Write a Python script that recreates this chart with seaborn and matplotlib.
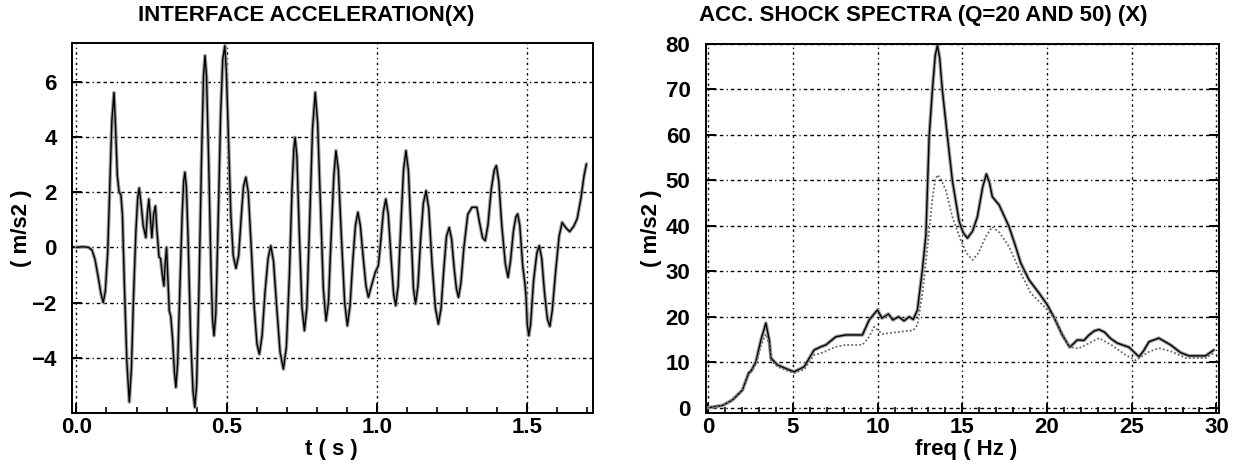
import numpy as np
import pandas as pd
import matplotlib
matplotlib.use("Agg")
import matplotlib.pyplot as plt
from matplotlib.ticker import MultipleLocator
import seaborn as sns

# ---- interface acceleration time history (s, m/s2) ----
acc_t = [0.000, 0.020, 0.040, 0.052, 0.062, 0.072, 0.082, 0.089, 0.096, 0.104,
         0.112, 0.118, 0.125, 0.130, 0.136, 0.142, 0.148, 0.153, 0.160, 0.168,
         0.176, 0.183, 0.190, 0.198, 0.204, 0.209, 0.215, 0.222, 0.231, 0.236,
         0.241, 0.246, 0.251, 0.257, 0.263, 0.268, 0.275, 0.280, 0.286, 0.291,
         0.296, 0.300, 0.304, 0.309, 0.314, 0.320, 0.326, 0.331, 0.337, 0.344,
         0.352, 0.357, 0.361, 0.366, 0.372, 0.380, 0.388, 0.394, 0.400, 0.408,
         0.416, 0.423, 0.428, 0.433, 0.440, 0.448, 0.453, 0.458, 0.464, 0.472,
         0.480, 0.487, 0.494, 0.499, 0.506, 0.514, 0.522, 0.531, 0.540, 0.548,
         0.556, 0.564, 0.572, 0.582, 0.592, 0.601, 0.609, 0.618, 0.628, 0.638,
         0.647, 0.656, 0.667, 0.678, 0.689, 0.699, 0.709, 0.718, 0.724, 0.728,
         0.734, 0.742, 0.751, 0.759, 0.767, 0.776, 0.786, 0.795, 0.803, 0.813,
         0.822, 0.831, 0.839, 0.848, 0.857, 0.864, 0.872, 0.882, 0.893, 0.902,
         0.911, 0.920, 0.929, 0.937, 0.945, 0.955, 0.964, 0.972, 0.982, 0.995,
         1.005, 1.013, 1.022, 1.030, 1.038, 1.047, 1.056, 1.063, 1.071, 1.080,
         1.089, 1.097, 1.105, 1.114, 1.122, 1.129, 1.137, 1.146, 1.155, 1.164,
         1.173, 1.184, 1.195, 1.205, 1.214, 1.223, 1.232, 1.241, 1.249, 1.257,
         1.265, 1.272, 1.280, 1.290, 1.303, 1.317, 1.333, 1.342, 1.352, 1.361,
         1.370, 1.381, 1.391, 1.398, 1.406, 1.416, 1.428, 1.437, 1.445, 1.455,
         1.463, 1.469, 1.476, 1.486, 1.493, 1.497, 1.501, 1.506, 1.512, 1.522,
         1.533, 1.541, 1.549, 1.558, 1.568, 1.576, 1.584, 1.596, 1.607, 1.617,
         1.630, 1.642, 1.655, 1.667, 1.680, 1.690, 1.698]
acc_v = [0.00, 0.02, 0.00, -0.10, -0.45, -1.05, -1.70, -2.00, -1.60, -0.20,
         2.50, 4.60, 5.60, 4.40, 2.60, 2.00, 1.90, 1.20, -1.50, -4.20,
         -5.60, -4.40, -1.80, 0.60, 1.80, 2.15, 1.60, 0.80, 0.35, 1.20,
         1.75, 1.10, 0.35, 1.20, 1.50, 0.60, -0.35, -0.40, -1.00, -1.40,
         -0.50, 0.00, -1.00, -2.30, -2.50, -3.30, -4.50, -5.07, -4.20, -1.60,
         1.20, 2.40, 2.72, 2.20, 0.20, -3.20, -5.20, -5.80, -5.00, -1.50,
         3.00, 6.20, 6.94, 6.20, 3.20, -0.80, -2.60, -3.20, -2.40, 1.00,
         4.80, 6.80, 7.30, 6.40, 4.00, 1.20, -0.30, -0.76, -0.30, 1.00,
         2.20, 2.54, 2.00, 0.00, -2.20, -3.50, -3.87, -3.20, -1.60, -0.40,
         0.06, -0.50, -2.20, -3.80, -4.41, -3.60, -1.00, 2.20, 3.60, 3.98,
         3.30, 0.50, -2.20, -3.02, -2.20, 0.80, 4.30, 5.61, 4.50, 1.40,
         -1.50, -2.66, -2.00, 0.40, 2.60, 3.50, 2.80, 0.40, -2.00, -2.84,
         -2.10, -0.50, 0.80, 1.27, 0.80, -0.40, -1.40, -1.81, -1.40, -0.90,
         -0.67, 0.20, 1.30, 1.75, 1.20, -0.30, -1.70, -2.11, -1.40, 0.80,
         2.80, 3.50, 2.80, 0.60, -1.50, -2.05, -1.40, 0.30, 1.60, 2.05,
         1.40, -0.60, -2.20, -2.78, -2.20, -0.80, 0.40, 0.72, 0.30, -0.70,
         -1.50, -1.81, -1.30, 0.00, 1.20, 1.45, 1.45, 0.90, 0.35, 0.24,
         0.80, 2.10, 2.80, 2.96, 2.40, 0.80, -0.60, -1.09, -0.50, 0.60,
         1.10, 1.21, 0.80, -0.70, -1.30, -1.80, -2.80, -3.20, -2.80, -1.20,
         -0.20, 0.06, -0.40, -1.60, -2.60, -2.86, -2.30, -0.80, 0.40, 0.90,
         0.70, 0.57, 0.75, 1.03, 1.80, 2.60, 3.02]

# ---- acceleration shock spectra (Hz, m/s2) ----
q50_f = [0.00, 0.85, 1.43, 2.02, 2.38, 2.55, 2.81, 3.11, 3.40, 3.60,
         3.70, 4.09, 4.78, 5.07, 5.66, 6.25, 6.65, 6.94, 7.53, 8.12,
         9.10, 9.50, 9.99, 10.25, 10.64, 10.90, 11.23, 11.56, 11.86, 12.10,
         12.35, 12.64, 12.85, 13.04, 13.23, 13.40, 13.53, 13.66, 13.82, 14.12,
         14.41, 14.81, 15.05, 15.30, 15.60, 15.89, 16.20, 16.42, 16.60, 16.77,
         17.17, 17.76, 18.15, 18.45, 18.94, 19.53, 20.02, 20.41, 20.90, 21.34,
         21.79, 22.18, 22.48, 22.80, 23.07, 23.40, 23.76, 24.15, 24.84, 25.43,
         25.70, 26.02, 26.60, 27.30, 27.89, 28.38, 29.36, 29.85]
q50_a = [0.0, 0.5, 1.7, 3.9, 7.6, 8.2, 10.1, 14.9, 18.6, 14.9,
         10.9, 9.4, 8.3, 7.9, 9.0, 12.7, 13.4, 13.8, 15.6, 16.0,
         16.0, 19.3, 21.5, 19.7, 20.6, 19.3, 20.0, 19.1, 20.0, 19.4,
         21.5, 30.3, 38.0, 59.6, 69.8, 77.5, 79.7, 77.0, 69.8, 59.6,
         50.0, 41.0, 38.5, 37.3, 38.8, 42.0, 48.5, 51.4, 49.5, 46.4,
         44.6, 39.8, 35.4, 31.8, 28.1, 25.2, 22.6, 19.9, 16.0, 13.3,
         14.9, 14.8, 16.0, 16.9, 17.2, 16.6, 15.2, 14.2, 13.3, 11.2,
         12.5, 14.5, 15.3, 13.8, 12.1, 11.4, 11.4, 12.7]

q20_f = [0.00, 0.85, 1.43, 2.02, 2.38, 2.55, 2.81, 3.11, 3.40, 3.60,
         3.70, 4.09, 4.78, 5.07, 5.66, 6.25, 6.65, 6.94, 7.53, 8.12,
         9.10, 9.50, 9.79, 10.28, 10.90, 11.56, 12.10, 12.35, 12.64, 12.85,
         13.04, 13.23, 13.40, 13.53, 13.70, 14.02, 14.41, 14.90, 15.25, 15.60,
         15.95, 16.38, 16.77, 17.20, 17.76, 18.45, 19.04, 19.92, 20.51, 21.30,
         21.85, 22.28, 23.07, 23.80, 24.64, 25.23, 26.02, 26.60, 27.40, 28.18,
         29.36, 29.85]
q20_a = [0.0, 0.5, 1.6, 3.7, 7.2, 7.9, 9.6, 13.6, 16.2, 13.8,
         10.4, 9.0, 8.0, 7.6, 8.4, 11.6, 12.0, 12.4, 13.4, 13.8,
         13.8, 15.6, 17.8, 16.2, 16.5, 16.8, 17.0, 18.2, 25.0, 32.0,
         39.0, 46.0, 50.0, 51.2, 50.5, 47.9, 42.0, 36.9, 34.0, 32.5,
         34.0, 37.6, 39.8, 38.5, 35.4, 29.6, 25.2, 21.9, 19.3, 13.4,
         13.0, 13.8, 15.3, 13.8, 11.6, 10.4, 12.3, 13.1, 12.3, 10.9,
         10.9, 12.0]

acc_df = pd.DataFrame({"t": acc_t, "acc": acc_v})
q50_df = pd.DataFrame({"freq": q50_f, "acc": q50_a})
q20_df = pd.DataFrame({"freq": q20_f, "acc": q20_a})

sns.set_theme(style="white")
plt.rcParams["font.family"] = ["Liberation Sans", "DejaVu Sans"]
plt.rcParams["font.weight"] = "bold"

fig = plt.figure(figsize=(12.34, 4.68), dpi=100)
ax1 = fig.add_axes([0.0583, 0.1175, 0.4223, 0.7906])
ax2 = fig.add_axes([0.5719, 0.1182, 0.4159, 0.7878])

HGRID = (0, (2.6, 2.2, 2.6, 2.2, 2.6, 2.2, 0.9, 2.2))
VGRID = (0, (0.9, 2.4, 1.8, 2.4))

# time history: grey halo under a thin black trace
sns.lineplot(data=acc_df, x="t", y="acc", ax=ax1, color="0.62", lw=2.6,
             estimator=None, sort=False)
sns.lineplot(data=acc_df, x="t", y="acc", ax=ax1, color="black", lw=1.0,
             estimator=None, sort=False)

# spectra: Q=50 solid, Q=20 dotted
sns.lineplot(data=q50_df, x="freq", y="acc", ax=ax2, color="0.62", lw=2.6,
             estimator=None, sort=False)
sns.lineplot(data=q50_df, x="freq", y="acc", ax=ax2, color="black", lw=1.0,
             estimator=None, sort=False)
sns.lineplot(data=q20_df, x="freq", y="acc", ax=ax2, color="0.4", lw=1.3,
             linestyle=(0, (1.0, 1.2)), estimator=None, sort=False)

ax1.set_xlim(-0.015, 1.72)
ax1.set_ylim(-6.0, 7.4)
ax1.set_xticks([0.0, 0.5, 1.0, 1.5])
ax1.set_xticklabels(["0.0", "0.5", "1.0", "1.5"])
ax1.xaxis.set_minor_locator(MultipleLocator(0.1))
ax1.set_yticks([-4, -2, 0, 2, 4, 6])

ax2.set_xlim(-0.15, 30.15)
ax2.set_ylim(-1.1, 80.0)
ax2.xaxis.set_major_locator(MultipleLocator(5))
ax2.xaxis.set_minor_locator(MultipleLocator(1))
ax2.set_yticks(list(range(0, 81, 10)))

for ax in (ax1, ax2):
    ax.set_xlabel("")
    ax.set_ylabel("")
    for sp in ax.spines.values():
        sp.set_visible(True)
        sp.set_color("black")
        sp.set_linewidth(1.4)
    ax.grid(False)
    # dash-dot grid at major positions
    for xv in ax.get_xticks():
        if ax.get_xlim()[0] < xv < ax.get_xlim()[1]:
            ax.axvline(xv, color="black", lw=1.0, linestyle=VGRID, zorder=0)
    for yv in ax.get_yticks():
        if ax.get_ylim()[0] < yv <= ax.get_ylim()[1]:
            ax.axhline(yv, color="black", lw=1.0, linestyle=HGRID, zorder=0)
    ax.tick_params(axis="both", which="major", direction="in", length=7,
                   width=1.4, color="black", labelsize=16, labelcolor="black")
    ax.tick_params(axis="x", which="minor", direction="in", length=4,
                   width=1.2, color="black", bottom=True)
    ax.tick_params(axis="x", which="major", pad=3)
    ax.tick_params(axis="y", which="major", pad=11, left=True)
    ax.tick_params(axis="x", bottom=True)
    for lab in ax.get_xticklabels() + ax.get_yticklabels():
        lab.set_fontweight("bold")

ax2.tick_params(axis="y", which="major", right=True)

title_kw = dict(fontsize=16, fontweight="bold", ha="center", va="center",
                color="black")
fig.text(306 / 1234, 1 - 16 / 468, "INTERFACE ACCELERATION(X)", **title_kw)
fig.text(923 / 1234, 1 - 16 / 468, "ACC. SHOCK SPECTRA (Q=20 AND 50) (X)",
         **title_kw)

lab_kw = dict(fontsize=16, fontweight="bold", ha="center", va="center",
              color="black")
fig.text(331 / 1234, 1 - 450 / 468, "t ( s )", **lab_kw)
fig.text(966 / 1234, 1 - 450 / 468, "freq ( Hz )", **lab_kw)
fig.text(22 / 1234, 1 - 228 / 468, "( m/s2 )", rotation=90, **lab_kw)
fig.text(652 / 1234, 1 - 228 / 468, "( m/s2 )", rotation=90, **lab_kw)

fig.savefig("out.png", dpi=100, facecolor="white")
